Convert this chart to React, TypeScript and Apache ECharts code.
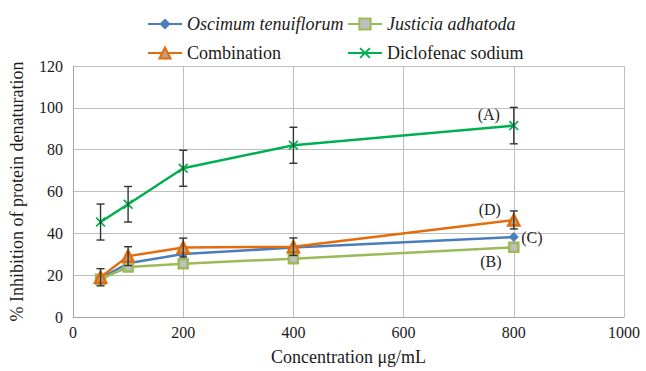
import React, { useEffect, useRef } from "react";
import * as echarts from "echarts";

const concentrations = [50, 100, 200, 400, 800];
const oscimum = [18.5, 25.7, 30.1, 33.2, 38.2];
const justicia = [18.1, 23.9, 25.5, 27.9, 33.3];
const combination = [19.0, 29.1, 33.2, 33.6, 46.4];
const diclofenac = [45.4, 53.9, 71.1, 82.1, 91.5];
const combinationErr = [4.1, 4.5, 4.5, 4.2, 4.3];
const diclofenacErr = [8.6, 8.5, 8.6, 8.6, 8.7];
const xTicks = [0, 200, 400, 600, 800, 1000];
const yTicks = [0, 20, 40, 60, 80, 100, 120];

const FONT = "Liberation Serif";
const CSS_FONT = "'Liberation Serif', 'Times New Roman', serif";
const C_BLUE = "#4a7ebb";
const C_OLIVE = "#9bbb59";
const C_ORANGE = "#e46c0a";
const C_GREEN = "#00b050";
const CROSS = "path://M0,1.2 L1.2,0 L5,3.8 L8.8,0 L10,1.2 L6.2,5 L10,8.8 L8.8,10 L5,6.2 L1.2,10 L0,8.8 L3.8,5Z";

function withLabel(vals: number[], text: string, offset: number[]) {
  return concentrations.map((c, i) =>
    i === concentrations.length - 1
      ? {
          value: [c, vals[i]],
          label: {
            show: true,
            formatter: text,
            position: "inside",
            offset,
            color: "#222",
            fontFamily: FONT,
            fontSize: 16,
          },
        }
      : [c, vals[i]]
  );
}

function errData(vals: number[], errs: number[]) {
  return concentrations.map((c, i) => [c, vals[i] - errs[i], vals[i] + errs[i]]);
}

function errRender(params: any, api: any) {
  const x = api.value(0);
  const lo = api.coord([x, api.value(1)]);
  const hi = api.coord([x, api.value(2)]);
  const w = 4;
  const style = { stroke: "#333", lineWidth: 1.4 };
  return {
    type: "group",
    children: [
      { type: "line", shape: { x1: lo[0], y1: lo[1], x2: hi[0], y2: hi[1] }, style },
      { type: "line", shape: { x1: lo[0] - w, y1: lo[1], x2: lo[0] + w, y2: lo[1] }, style },
      { type: "line", shape: { x1: hi[0] - w, y1: hi[1], x2: hi[0] + w, y2: hi[1] }, style },
    ],
  };
}

export default function App() {
  const ref = useRef<HTMLDivElement>(null);
  useEffect(() => {
    if (!ref.current) return;
    const el = ref.current;
    const chart = echarts.init(el, undefined, { renderer: "svg" });
    const big = { fontFamily: FONT, fontSize: 18, color: "#1a1a1a" };
    const tick = { fontFamily: FONT, fontSize: 16, color: "#1a1a1a" };
    const legendBase = {
      orient: "vertical",
      top: 10,
      itemGap: 11,
      itemWidth: 34,
      itemHeight: 14,
      textStyle: { ...big, lineHeight: 18 },
    };
    chart.setOption({
      animation: false,
      textStyle: { fontFamily: FONT },
      legend: [
        {
          ...legendBase,
          left: 142,
          data: [
            { name: "Oscimum tenuiflorum", textStyle: { ...big, lineHeight: 18, fontStyle: "italic" } },
            { name: "Combination", textStyle: { ...big, lineHeight: 18 } },
          ],
        },
        {
          ...legendBase,
          left: 342,
          data: [
            { name: "Justicia adhatoda", textStyle: { ...big, lineHeight: 18, fontStyle: "italic" } },
            { name: "Diclofenac sodium", textStyle: { ...big, lineHeight: 18 } },
          ],
        },
      ],
      grid: { left: 73, right: 22, top: 66, bottom: 52 },
      xAxis: {
        type: "value",
        min: xTicks[0],
        max: xTicks[xTicks.length - 1],
        interval: 200,
        name: "Concentration μg/mL",
        nameLocation: "middle",
        nameGap: 31,
        nameTextStyle: { ...big },
        axisLine: { lineStyle: { color: "#a6a6a6", width: 1 } },
        axisTick: { show: false },
        axisLabel: { ...tick, margin: 7, formatter: (v: number) => String(v) },
        splitLine: { show: true, lineStyle: { color: "#bfbfbf", width: 1 } },
      },
      yAxis: {
        type: "value",
        min: yTicks[0],
        max: yTicks[yTicks.length - 1],
        interval: 20,
        name: "% Inhibition of protein denaturation",
        nameLocation: "middle",
        nameGap: 47,
        nameTextStyle: { ...big },
        axisLine: { show: true, lineStyle: { color: "#a6a6a6", width: 1 } },
        axisTick: { show: false },
        axisLabel: { ...tick, margin: 10, formatter: (v: number) => String(v) },
        splitLine: { show: true, lineStyle: { color: "#bfbfbf", width: 1 } },
      },
      series: [
        {
          name: "Oscimum tenuiflorum",
          type: "line",
          data: withLabel(oscimum, "(C)", [18, 0]),
          symbol: "diamond",
          symbolSize: 10,
          lineStyle: { color: C_BLUE, width: 2.5 },
          itemStyle: { color: C_BLUE },
          z: 3,
        },
        {
          name: "Justicia adhatoda",
          type: "line",
          data: withLabel(justicia, "(B)", [-23, 14]),
          symbol: "rect",
          symbolSize: 9,
          lineStyle: { color: C_OLIVE, width: 2.5 },
          itemStyle: { color: "#bfbfbf", borderColor: C_OLIVE, borderWidth: 2.5 },
          z: 3,
        },
        {
          name: "Combination",
          type: "line",
          data: withLabel(combination, "(D)", [-24, -10]),
          symbol: "triangle",
          symbolSize: 11,
          lineStyle: { color: C_ORANGE, width: 2.5 },
          itemStyle: { color: "#c0a080", borderColor: C_ORANGE, borderWidth: 2.5 },
          z: 4,
        },
        {
          name: "Diclofenac sodium",
          type: "line",
          data: withLabel(diclofenac, "(A)", [-25, -11]),
          symbol: CROSS,
          symbolSize: 10,
          lineStyle: { color: C_GREEN, width: 2.5 },
          itemStyle: { color: C_GREEN },
          z: 4,
        },
        {
          type: "custom",
          name: "errC",
          data: errData(combination, combinationErr),
          renderItem: errRender,
          z: 5,
          silent: true,
        },
        {
          type: "custom",
          name: "errD",
          data: errData(diclofenac, diclofenacErr),
          renderItem: errRender,
          z: 5,
          silent: true,
        },
      ],
    });
    const fixFonts = () => {
      el.querySelectorAll("text").forEach((t) => {
        const node = t as SVGTextElement;
        node.setAttribute("font-family", CSS_FONT);
        node.style.fontFamily = CSS_FONT;
      });
    };
    chart.on("finished", fixFonts);
    fixFonts();
    const t1 = setTimeout(fixFonts, 50);
    const t2 = setTimeout(fixFonts, 300);
    return () => {
      clearTimeout(t1);
      clearTimeout(t2);
      chart.dispose();
    };
  }, []);
  return <div ref={ref} style={{ width: 646, height: 371, position: "absolute", left: 0, top: 0, background: "#fff" }} />;
}
